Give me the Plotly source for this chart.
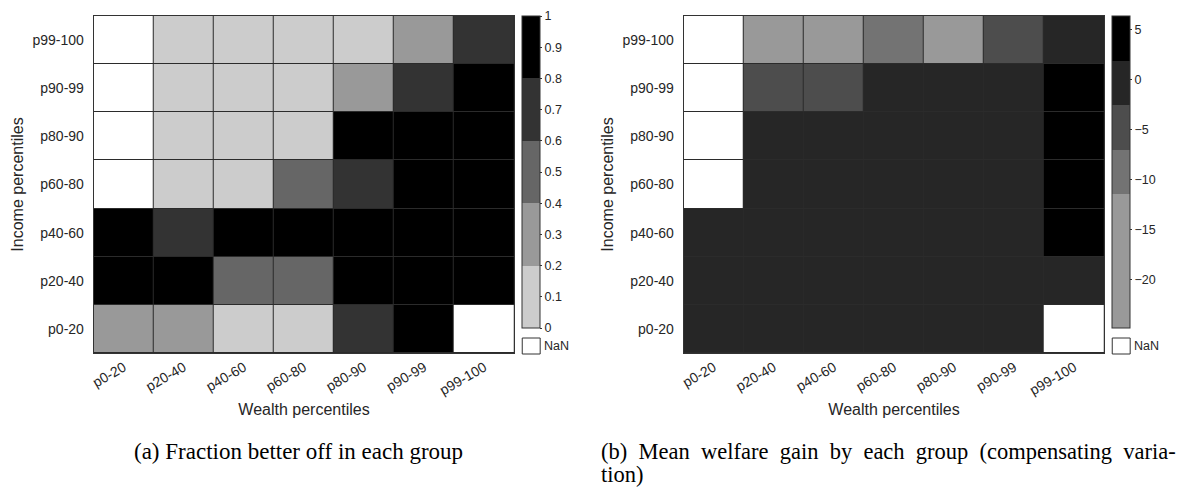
import plotly.graph_objects as go

wealth = ["p0-20", "p20-40", "p40-60", "p60-80", "p80-90", "p90-99", "p99-100"]
income = ["p0-20", "p20-40", "p40-60", "p60-80", "p80-90", "p90-99", "p99-100"]
nan = None

# (a) fraction better off; rows bottom (p0-20) to top (p99-100)
frac = [
    [0.3, 0.3, 0.1, 0.1, 0.7, 0.9, nan],
    [0.9, 0.9, 0.5, 0.5, 0.9, 0.9, 0.9],
    [0.9, 0.7, 0.9, 0.9, 0.9, 0.9, 0.9],
    [nan, 0.1, 0.1, 0.5, 0.7, 0.9, 0.9],
    [nan, 0.1, 0.1, 0.1, 0.9, 0.9, 0.9],
    [nan, 0.1, 0.1, 0.1, 0.3, 0.7, 0.9],
    [nan, 0.1, 0.1, 0.1, 0.1, 0.3, 0.7],
]
# (b) mean welfare gain (compensating variation)
gain = [
    [0.0, 0.0, 0.0, 0.0, 0.0, 0.0, nan],
    [0.0, 0.0, 0.0, 0.0, 0.0, 0.0, 0.0],
    [0.0, 0.0, 0.0, 0.0, 0.0, 0.0, 3.5],
    [nan, 0.0, 0.0, 0.0, 0.0, 0.0, 3.5],
    [nan, 0.0, 0.0, 0.0, 0.0, 0.0, 3.5],
    [nan, -5.0, -5.0, 0.0, 0.0, 0.0, 3.5],
    [nan, -15.0, -14.0, -9.5, -14.0, -5.0, -0.5],
]

frac_ticks = [0, 0.1, 0.2, 0.3, 0.4, 0.5, 0.6, 0.7, 0.8, 0.9, 1]
gain_ticks = [-20, -15, -10, -5, 0, 5]
frac_range = [0, 1]
gain_range = [-24.87, 6.33]

W, H = 1185, 488
def px(x): return x / W
def py(y): return 1 - y / H

def discrete(colors):
    n = len(colors)
    cs = []
    for i, c in enumerate(colors):
        cs.append([i / n, c]); cs.append([(i + 1) / n, c])
    return cs

cs_a = discrete(["#cccccc", "#999999", "#666666", "#333333", "#000000"])
cs_b = discrete(["#999999", "#999999", "#999999", "#737373", "#4d4d4d", "#262626", "#000000"])

def nanmask(z):
    return [[1 if v is None else None for v in row] for row in z]

FONT = "Liberation Sans, Arial, Helvetica, sans-serif"
TXT = "#262626"
CBW = 18

fig = go.Figure()
for z, cs, rng, ticks, xa, ya, cbx in [
        (frac, cs_a, frac_range, frac_ticks, "x", "y", 520),
        (gain, cs_b, gain_range, gain_ticks, "x2", "y2", 1112)]:
    fig.add_trace(go.Heatmap(z=nanmask(z), x=wealth, y=income, xaxis=xa, yaxis=ya,
                             colorscale=[[0, "white"], [1, "white"]], showscale=False,
                             xgap=1, ygap=1, hoverinfo="skip"))
    fig.add_trace(go.Heatmap(z=z, x=wealth, y=income, xaxis=xa, yaxis=ya,
                             colorscale=cs, zmin=rng[0], zmax=rng[1], xgap=1, ygap=1,
                             colorbar=dict(x=px(cbx), xanchor="left", xpad=0, ypad=0,
                                           y=py(16), yanchor="top", len=312, lenmode="pixels",
                                           thickness=CBW, thicknessmode="pixels",
                                           outlinewidth=1, outlinecolor="#333333",
                                           tickvals=ticks, ticks="outside", ticklen=2,
                                           tickcolor="#333333",
                                           tickfont=dict(family=FONT, size=12.5, color=TXT))))
    # NaN legend box
    fig.add_shape(type="rect", xref="paper", yref="paper",
                  x0=px(cbx), x1=px(cbx + CBW), y0=py(354), y1=py(338),
                  line=dict(color="#333333", width=1), fillcolor="white")
    fig.add_annotation(xref="paper", yref="paper", x=px(cbx + CBW + 2), y=py(346),
                       xanchor="left", yanchor="middle", text="NaN", showarrow=False,
                       font=dict(family=FONT, size=12.5, color=TXT))

axis_common = dict(showline=True, mirror=True, linecolor="#333333", linewidth=1,
                   showgrid=False, zeroline=False, ticks="", type="category",
                   tickfont=dict(family=FONT, size=14, color=TXT))
xt = dict(text="Wealth percentiles", standoff=6, font=dict(family=FONT, size=16, color=TXT))
yt = dict(text="Income percentiles", standoff=4, font=dict(family=FONT, size=16, color=TXT))
fig.update_layout(
    width=W, height=H, margin=dict(l=0, r=0, t=0, b=0),
    paper_bgcolor="white", plot_bgcolor="#2b2b2b",
    xaxis=dict(domain=[px(90), px(512)], anchor="y", tickangle=-30, title=xt, **axis_common),
    yaxis=dict(domain=[py(353), py(16)], anchor="x", ticklabelstandoff=6, title=yt, **axis_common),
    xaxis2=dict(domain=[px(682), px(1104)], anchor="y2", tickangle=-30, title=xt, **axis_common),
    yaxis2=dict(domain=[py(353), py(16)], anchor="x2", ticklabelstandoff=6, title=yt, **axis_common),
)

CAP = "Liberation Serif, Times New Roman, serif"
E = "\u2002"
fig.add_annotation(xref="paper", yref="paper", x=px(129), y=py(451), xanchor="left",
                   yanchor="middle", showarrow=False, borderpad=0,
                   text="(a) Fraction better off in each group",
                   font=dict(family=CAP, size=23, color="black"))
fig.add_annotation(xref="paper", yref="paper", x=px(598), y=py(451), xanchor="left",
                   yanchor="middle", showarrow=False, borderpad=0,
                   text=E.join(["(b)", "Mean", "welfare", "gain", "by", "each", "group",
                                "(compensating", "varia-"]),
                   font=dict(family=CAP, size=22.5, color="black"))
fig.add_annotation(xref="paper", yref="paper", x=px(598), y=0, xanchor="left",
                   yanchor="bottom", showarrow=False, borderpad=0, text="tion)",
                   font=dict(family=CAP, size=22.5, color="black"))

fig.write_html("out.html")
